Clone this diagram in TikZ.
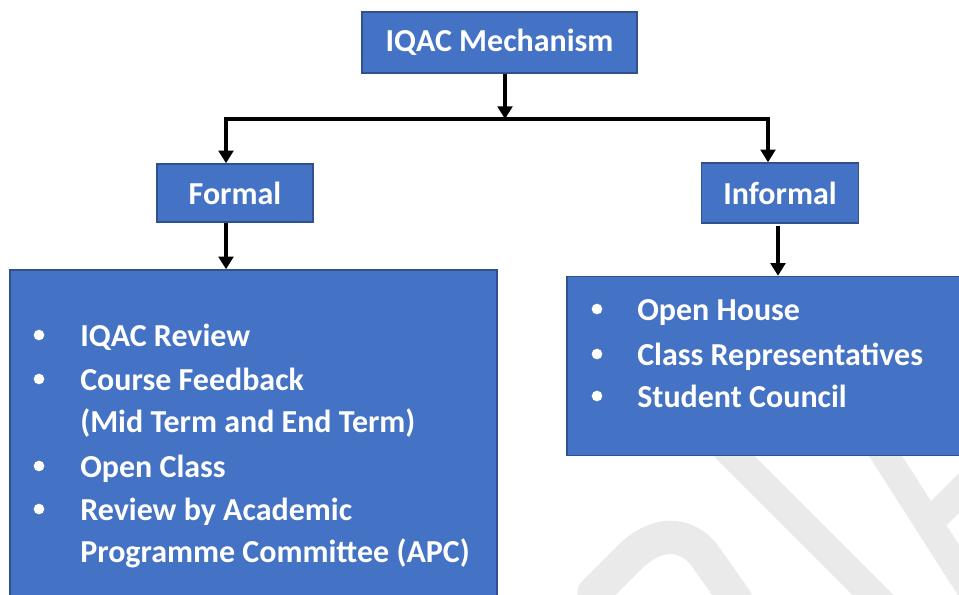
\documentclass[tikz,border=0pt]{standalone}
\usepackage{fontspec}
\setmainfont{Carlito}
\usetikzlibrary{arrows.meta}

\definecolor{bleu}{HTML}{4472C4}
\definecolor{bleufonce}{HTML}{2F528F}
\definecolor{filigrane}{HTML}{EAEAEA}

\tikzset{
  boite/.style={draw=bleufonce, line width=1.1pt, fill=bleu, text=white,
    font=\bfseries\fontsize{24}{28}\selectfont, inner sep=0pt},
  ligne/.style={text=white, font=\bfseries\fontsize{24}{28}\selectfont,
    inner sep=0pt, anchor=base west},
  fleche/.style={line width=2.8pt, line join=miter,
    -{Triangle[width=11pt,length=9.5pt]}},
  trait/.style={filigrane, line width=22pt},
}

\begin{document}
\begin{tikzpicture}[x=0.75pt,y=-0.75pt]
\useasboundingbox (0,0) rectangle (959,594);
\clip (0,0) rectangle (959,594);

% Filigrane
\draw[trait] (600,322) -- (920,642);
\draw[trait, line width=21pt] (824,360) -- (986,613);
\draw[trait, line width=21pt] (926,526) -- (1010,442);
\draw[trait, line width=25pt, line cap=round]
  (594,593) -- (630,557) .. controls (655,532) and (685,530) .. (705,556) -- (736,600);

% Boites
\node[boite, minimum width=206.25pt, minimum height=45.75pt] (haut) at (499.5,42.5) {IQAC Mechanism};
\node[boite, minimum width=117pt, minimum height=43.5pt] (formel) at (235,193) {Formal};
\node[boite, minimum width=117.75pt, minimum height=45pt] (informel) at (780,193) {Informal};
\node[boite, minimum width=365.25pt, minimum height=255pt] (listeformel) at (253.5,440) {};
\node[boite, minimum width=306pt, minimum height=134.25pt] (listeinformel) at (771,366) {};

% Fleches
\coordinate (jonction) at (505,119);
\coordinate (gauche) at (226,119);
\coordinate (droite) at (768,119);
\draw[fleche] (haut.south -| jonction) -- (jonction);
\draw[fleche] (jonction) -- (gauche) -- (gauche |- formel.north);
\draw[fleche] (jonction) -- (droite) -- (droite |- informel.north);
\draw[fleche] (formel.south -| gauche) -- (listeformel.north -| gauche);
\draw[fleche] ([xshift=-1.5pt,yshift=-2pt]informel.south) -- ([xshift=-1.5pt]informel.south |- listeinformel.north);

% Liste formelle
\foreach \y in {346,390,477,520}
  \fill[white] (39,\y-11) circle (4pt);
\node[ligne] (f1) at (80,346) {IQAC Review};
\node[ligne] (f2) at (80,390) {Course Feedback};
\node[ligne] (f3) at (80,432) {(Mid Term and End Term)};
\node[ligne] (f4) at (80,477) {Open Class};
\node[ligne] (f5) at (80,520) {Review by Academic};
\node[ligne] (f6) at (80,562) {Programme Committee (APC)};

% Liste informelle
\foreach \y in {320,365,407}
  \fill[white] (597,\y-11) circle (4pt);
\node[ligne] (i1) at (637,320) {Open House};
\node[ligne] (i2) at (637,365) {Class Representatives};
\node[ligne] (i3) at (637,407) {Student Council};
\end{tikzpicture}
\end{document}
